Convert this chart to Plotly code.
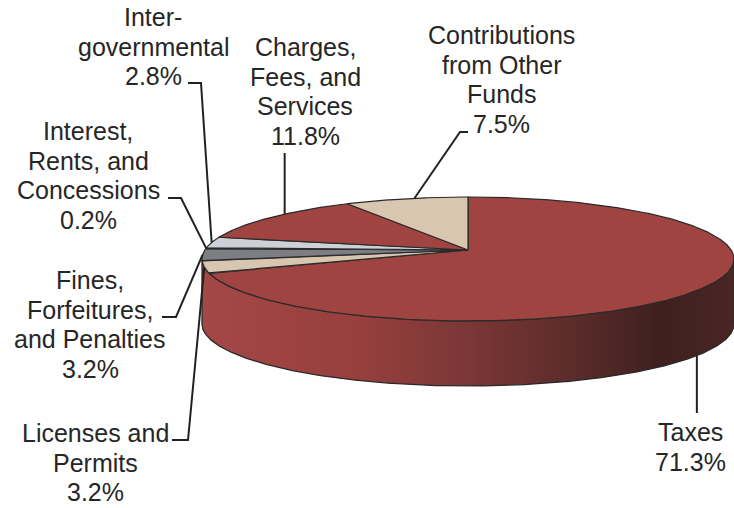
import numpy as np
import plotly.graph_objects as go

# ---------------- data ----------------
categories = ["Taxes", "Licenses and Permits", "Fines, Forfeitures, and Penalties",
              "Interest, Rents, and Concessions", "Inter-governmental",
              "Charges, Fees, and Services", "Contributions from Other Funds"]
shares = [71.3, 3.2, 3.2, 0.2, 2.8, 11.8, 7.5]
label_lines = [["Taxes"], ["Licenses and", "Permits"], ["Fines,", "Forfeitures,", "and Penalties"],
               ["Interest,", "Rents, and", "Concessions"], ["Inter-", "governmental"],
               ["Charges,", "Fees, and", "Services"], ["Contributions", "from Other", "Funds"]]

# ---------------- styles / layout ----------------
top_colors = ["#A04442", "#D9C6B0", "#7C7E83", "#4F5155", "#CDD1D7", "#A04442", "#D9C6B0"]
side_scale = [[0, "#A44846"], [0.3, "#963F3D"], [0.5, "#7A3736"], [0.7, "#5A2C2A"],
              [0.86, "#3F201F"], [1, "#4A2625"]]
EDGE = "#2a2a2a"
CX, CY, RX, RY, DEPTH, APEX_DY = 468, 259, 266, 62, 65, -9
WIN_W, WIN_H = 734, 508

# label layout: center x, first line center y, leader points (from anchor outward), anchor fraction
label_pos = [(690, 432), (95, 433), (90, 280), (88, 131), (153, 17), (305, 47), (501, 35)]
leader_pts = [None, [(188, 440), (172, 440)], [(176, 317), (162, 317)],
              [(181, 198), (168, 198)], [(201, 83), (188, 83)], None,
              [(460, 132), (468, 132)]]
leader_vertical_to = [413, None, None, None, None, 153, None]
anchor_frac = [0.47, 0.5, 0.5, 0.5, 0.5, 0.61, 0.57]
LINE_GAP = 29.7


def pt(theta, dy=0.0):
    t = np.radians(theta)
    return CX + RX * np.sin(t), CY - RY * np.cos(t) + dy


fig = go.Figure()

# cumulative angles (clockwise from 12 o'clock)
total = sum(shares)
bounds = np.concatenate([[0], np.cumsum(shares) / total * 360])

# ---- side wall (visible front half, 90..270 deg), shaded like the dominant slice ----
th = np.linspace(90, 270, 400)
xt, yt = pt(th)
xb, yb = pt(th[::-1], DEPTH)
fig.add_trace(go.Scatter(
    x=np.concatenate([xt, xb, [xt[0]]]), y=np.concatenate([yt, yb, [yt[0]]]),
    mode="lines", fill="toself",
    fillgradient=dict(type="horizontal", colorscale=side_scale, start=CX - RX, stop=CX + RX),
    line=dict(color=EDGE, width=1.3), hoverinfo="skip", showlegend=False))

# ---- top face slices ----
apex = (CX, CY + APEX_DY)
for i in range(len(shares)):
    th = np.linspace(bounds[i], bounds[i + 1], max(4, int((bounds[i + 1] - bounds[i]) * 3)))
    xa, ya = pt(th)
    xs = np.concatenate([[apex[0]], xa, [apex[0]]])
    ys = np.concatenate([[apex[1]], ya, [apex[1]]])
    fig.add_trace(go.Scatter(x=xs, y=ys, mode="lines", fill="toself",
                             fillcolor=top_colors[i],
                             line=dict(color=EDGE, width=1.2),
                             name=categories[i], hoverinfo="name", showlegend=False))

# ---- leader lines and labels ----
for i in range(len(shares)):
    theta = bounds[i] + anchor_frac[i] * (bounds[i + 1] - bounds[i])
    ax, ay = pt(theta, DEPTH if i == 0 else 0)
    px, py = [ax], [ay]
    if leader_vertical_to[i] is not None:
        px.append(ax)
        py.append(leader_vertical_to[i])
    else:
        for (lx, ly) in leader_pts[i]:
            px.append(lx)
            py.append(ly)
    fig.add_trace(go.Scatter(x=px, y=py, mode="lines", line=dict(color="#222222", width=2),
                             hoverinfo="skip", showlegend=False))
    lines = label_lines[i] + [f"{shares[i]:.1f}%"]
    x0, y0 = label_pos[i]
    for k, txt in enumerate(lines):
        fig.add_annotation(x=x0, y=y0 + k * LINE_GAP, text=txt, showarrow=False,
                           xanchor="center", yanchor="middle",
                           font=dict(family="Liberation Sans, Arial, sans-serif",
                                     size=25, color="#262626"))

fig.update_layout(
    width=WIN_W, height=WIN_H,
    margin=dict(l=0, r=0, t=0, b=0),
    paper_bgcolor="white", plot_bgcolor="white",
    xaxis=dict(range=[0, WIN_W], visible=False, fixedrange=True),
    yaxis=dict(range=[WIN_H, 0], visible=False, fixedrange=True),
    showlegend=False,
)

fig.write_html(
    "out.html",
    config={"displayModeBar": False},
    post_script="document.body.style.margin='0px';document.body.style.overflow='hidden';",
)
